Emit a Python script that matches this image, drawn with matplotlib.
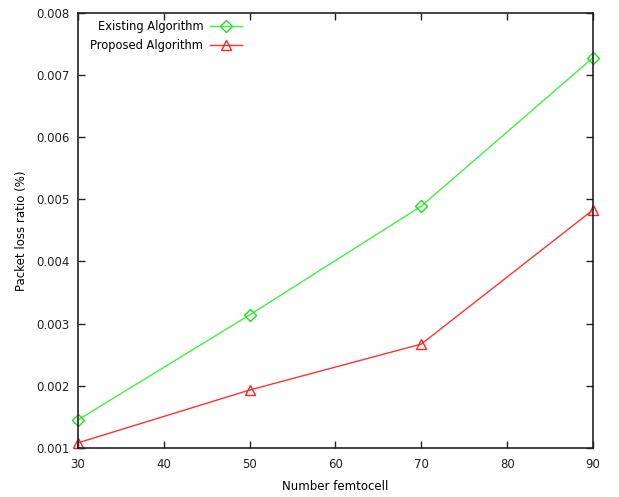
import numpy as np
from matplotlib import pyplot as plt

femtocells = [30, 50, 70, 90]
existing = [0.00145, 0.00314, 0.00489, 0.00728]
proposed = [0.00108, 0.00193, 0.00267, 0.00483]

fig = plt.figure(figsize=(6.19, 4.97), dpi=100)
ax = fig.add_axes([0.126, 0.099, 0.832, 0.875])

ax.plot(femtocells, existing, color='#44ee44', linewidth=1, marker='D',
        markersize=6, markerfacecolor='none', markeredgecolor='#22dd22',
        label='Existing Algorithm', clip_on=False)
ax.plot(femtocells, proposed, color='#ff3333', linewidth=1, marker='^',
        markersize=7, markerfacecolor='none', markeredgecolor='#ff2222',
        label='Proposed Algorithm', clip_on=False)

ax.set_xlim(30, 90)
ax.set_ylim(0.001, 0.008)
ax.set_xticks(range(30, 91, 10))
ax.set_yticks(np.arange(0.001, 0.0081, 0.001))
ax.set_yticklabels(['%.3f' % v for v in np.arange(0.001, 0.0081, 0.001)])
ax.tick_params(direction='in', top=True, right=True, length=5, width=1,
               labelsize=8.5, colors='#222222')
ax.tick_params(axis='x', pad=7)
ax.tick_params(axis='y', pad=6)
for s in ax.spines.values():
    s.set_linewidth(1.2)
    s.set_color('#222222')

ax.set_xlabel('Number femtocell', fontsize=8.5, labelpad=7)
ax.set_ylabel('Packet loss ratio (%)', fontsize=8.5, labelpad=6)

ax.legend(loc='upper left', bbox_to_anchor=(0.004, 1.008), frameon=False,
          markerfirst=False, fontsize=8.3, handlelength=2.8, labelspacing=0.55,
          handletextpad=0.6)

plt.savefig('out.png', dpi=100)
